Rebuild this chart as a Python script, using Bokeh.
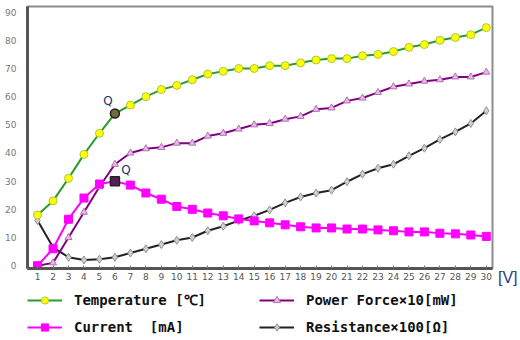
from bokeh.plotting import figure
from bokeh.layouts import column
from bokeh.models import Legend, LegendItem, Label, Range1d, FixedTicker, Title
from bokeh.embed import file_html
from bokeh.resources import INLINE

volts = list(range(1, 31))
temperature = [18, 23, 31, 39.5, 47, 54, 57, 60, 62.5, 64, 66, 68, 69, 70, 70,
               71, 71, 72, 73, 73.5, 73.5, 74.5, 75, 76, 77.5, 78.5, 80, 81, 82, 84.5]
current = [0, 6, 16.5, 24, 29, 30, 28.6, 25.8, 23.6, 21, 20, 18.7, 17.7, 16.6, 15.9,
           15.2, 14.5, 13.8, 13.4, 13.4, 13, 13, 12.7, 12.4, 12, 12, 11.5, 11.3, 10.9, 10.4]
power = [0, 1, 10, 19, 28, 36, 40, 41.5, 42, 43.5, 43.5, 46, 47, 48.5, 50,
         50.5, 52, 53, 55.5, 56, 58.5, 59.5, 61.5, 63.5, 64.5, 65.5, 66, 67, 67, 68.7]
resistance = [16, 6.5, 3, 2, 2.3, 3, 4.5, 6, 7.5, 9, 10, 12.4, 14, 16, 17.7,
              19.8, 22.3, 24.4, 25.8, 26.8, 29.8, 32.5, 34.6, 36, 39, 41.7, 44.8, 47.5, 50.5, 55]
q_index = 5
x_ticks = list(range(1, 31))
y_ticks = list(range(0, 91, 10))
labels = ["Temperature [\u2103]", "Current  [mA]", "Power Force\u00d710[mW]", "Resistance\u00d7100[\u03a9]"]
unit_label = "[V]"

STY = {
    "tmp_line": dict(line_color="#2e9a2e", line_width=2),
    "tmp_mark": dict(marker="circle", size=8, fill_color="#ffff00", line_color="#a8c838"),
    "cur_line": dict(line_color="#ff00ff", line_width=2),
    "cur_mark": dict(marker="square", size=8, fill_color="#ff00ff", line_color="#ff00ff"),
    "pow_line": dict(line_color="#800080", line_width=2),
    "pow_mark": dict(marker="triangle", size=7, fill_color="#e6bce6", line_color="#b070b0"),
    "res_line": dict(line_color="#222222", line_width=2),
    "res_mark": dict(marker="diamond", size=8, fill_color="#d0d0d0", line_color="#909090"),
}

p = figure(width=520, height=290, output_backend="svg", toolbar_location=None,
           x_range=Range1d(0.35, 30.4), y_range=Range1d(-1, 92),
           min_border_left=27, min_border_right=28, min_border_top=6, min_border_bottom=22)
p.grid.visible = False
p.outline_line_color = "#8c8c8c"
p.outline_line_width = 2
p.background_fill_color = "white"
p.border_fill_color = "white"

p.xaxis.ticker = FixedTicker(ticks=x_ticks)
p.yaxis.ticker = FixedTicker(ticks=y_ticks)
for ax in (p.xaxis, p.yaxis):
    ax.axis_line_color = "#555555"
    ax.axis_line_width = 3
    ax.major_label_text_font = "DejaVu Sans"
    ax.major_label_text_font_size = "9px"
    ax.minor_tick_line_color = None
p.yaxis.major_label_text_color = "#777777"
p.xaxis.major_label_text_color = "#555555"
p.yaxis.major_tick_line_color = None
p.yaxis.major_label_standoff = 5
p.xaxis.major_tick_in = 3
p.xaxis.major_tick_out = 0
p.xaxis.major_tick_line_color = "#777777"
p.xaxis.major_label_standoff = 4

p.line(volts, resistance, **STY["res_line"])
p.scatter(volts, resistance, **STY["res_mark"])
p.line(volts, power, **STY["pow_line"])
p.scatter(volts, power, **STY["pow_mark"])
p.line(volts, current, **STY["cur_line"])
p.scatter(volts, current, **STY["cur_mark"])
p.line(volts, temperature, **STY["tmp_line"])
p.scatter(volts, temperature, **STY["tmp_mark"])

# Q points
p.scatter([volts[q_index]], [temperature[q_index]], marker="circle", size=9,
          fill_color="#6e6a3a", line_color="#222222", line_width=1.5)
p.scatter([volts[q_index]], [current[q_index]], marker="square", size=9,
          fill_color="#552255", line_color="#222222", line_width=1.5)
p.add_layout(Label(x=volts[q_index], y=temperature[q_index], x_offset=-7, y_offset=13,
                   text="Q", text_font="DejaVu Sans", text_font_size="12px",
                   text_color="#1c3370", text_align="center", text_baseline="middle"))
p.add_layout(Label(x=volts[q_index], y=current[q_index], x_offset=11, y_offset=11,
                   text="Q", text_font="DejaVu Sans", text_font_size="12px",
                   text_color="#1c3370", text_align="center", text_baseline="middle"))

p.add_layout(Title(text=unit_label, align="right", vertical_align="top",
                   offset=-25, standoff=-28, text_font="Liberation Sans",
                   text_font_size="16px", text_font_style="normal",
                   text_color="#2a3a8a"), "below")

# legend figure
q = figure(width=520, height=48, output_backend="svg", toolbar_location=None,
           x_range=Range1d(0, 1), y_range=Range1d(0, 1),
           min_border_left=26, min_border_right=0, min_border_top=0, min_border_bottom=0)
q.axis.visible = False
q.grid.visible = False
q.outline_line_color = None
q.border_fill_color = "white"
items = []
for key, lab in zip(["tmp", "cur", "pow", "res"], labels):
    rl = q.line([-10, -9], [-10, -9], **STY[key + "_line"])
    rm = q.scatter([-10], [-10], **STY[key + "_mark"])
    items.append(LegendItem(label=lab, renderers=[rl, rm]))
legend = Legend(items=items, ncols=2, orientation="vertical", location="top_left")
legend.border_line_color = None
legend.background_fill_alpha = 0
legend.label_text_font = "DejaVu Sans Mono"
legend.label_text_font_style = "bold"
legend.label_text_font_size = "14px"
legend.label_text_color = "#111111"
legend.glyph_width = 35
legend.glyph_height = 18
legend.label_height = 18
legend.label_width = 176
legend.label_standoff = 12
legend.spacing = 9
legend.padding = 2
legend.margin = 0
q.add_layout(legend)

open("out.html", "w").write(file_html(column(p, q), INLINE))
